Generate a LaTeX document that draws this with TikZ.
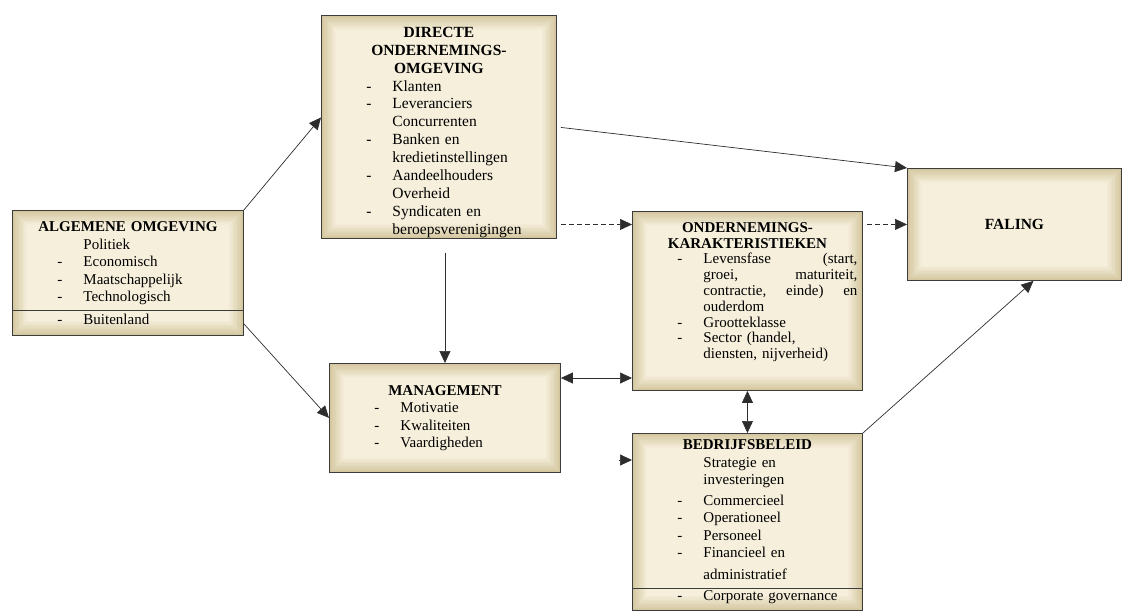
\documentclass[tikz,border=0pt]{standalone}
\usepackage{fontspec}
\setmainfont{Liberation Serif}
\usetikzlibrary{arrows.meta}
\definecolor{edgetan}{RGB}{212,199,160}
\definecolor{cream}{RGB}{246,239,220}
\definecolor{linegray}{RGB}{45,45,45}
\definecolor{boxline}{RGB}{60,60,60}
\newcommand{\itm}[1]{\hspace*{45pt}\makebox[26pt][l]{-}#1}
\newcommand{\cnt}[1]{\hspace*{71pt}#1}
\newcommand{\ttl}[1]{\makebox[\linewidth][c]{\bfseries #1}}

\begin{document}
\begin{tikzpicture}
		[x=1pt,y=-1pt,
		box/.style={rectangle,draw=boxline,line width=0.9pt,anchor=north west,inner sep=0pt,
align=left,font=\fontsize{15}{17.5}\selectfont,
path picture={\foreach \i [evaluate=\i as \p using int(100-\i*9)] in {0,...,11}
{\fill[edgetan!\p!cream] ([shift={(\i*1.3pt,\i*1.3pt)}]path picture bounding box.south west)
rectangle ([shift={(-\i*1.3pt,-\i*1.3pt)}]path picture bounding box.north east);}}},
		arr/.style={-{Triangle[length=12pt,width=11pt]},draw=linegray,line width=0.7pt,shorten <=4pt},
		dsh/.style={arr,dash pattern=on 5pt off 3pt},
		dbl/.style={{Triangle[length=12pt,width=11pt]}-{Triangle[length=12pt,width=11pt]},draw=linegray,line width=0.7pt}]
		\useasboundingbox (0,0) rectangle (1126,610);
		\node at (12,210) (alg) [box,minimum width=231pt,text width=231pt,minimum height=125pt]
{\ttl{ALGEMENE OMGEVING}\\ \cnt{Politiek}\\ \itm{Economisch}\\ \itm{Maatschappelijk}\\
\itm{Technologisch}\\[5pt] \itm{Buitenland}};
		\draw[boxline,line width=0.9pt] ([yshift=-100pt]alg.north west) -- ([yshift=-100pt]alg.north east);
		\node at (321,15) (dir) [box,minimum width=235pt,text width=235pt,minimum height=223pt,
font=\fontsize{15.5}{17.9}\selectfont]
{\ttl{\rule{0pt}{21pt}DIRECTE}\\ \ttl{ONDERNEMINGS-}\\ \ttl{OMGEVING}\\ \itm{Klanten}\\ \itm{Leveranciers}\\
\cnt{Concurrenten}\\ \itm{Banken en}\\ \cnt{kredietinstellingen}\\ \itm{Aandeelhouders}\\
\cnt{Overheid}\\ \itm{Syndicaten en}\\ \cnt{beroepsverenigingen}};
		\node at (632,211) (ond) [box,minimum width=230pt,text width=230pt,minimum height=179pt,
font=\fontsize{15}{15.8}\selectfont]
{\ttl{ONDERNEMINGS-}\\ \ttl{KARAKTERISTIEKEN}\\ \itm{\makebox[154pt][l]{Levensfase\hfill(start,}}\\
\cnt{\makebox[154pt][l]{groei,\hfill maturiteit,}}\\ \cnt{\makebox[154pt][l]{contractie,\hfill einde)\hfill en}}\\
\cnt{ouderdom}\\ \itm{Grootteklasse}\\ \itm{Sector (handel,}\\
\cnt{diensten, nijverheid)\rule[-21pt]{0pt}{21pt}}};
		\node at (329,363) (mgmt) [box,minimum width=231pt,text width=231pt,minimum height=109pt]
{\ttl{MANAGEMENT}\\ \itm{Motivatie}\\ \itm{Kwaliteiten}\\ \itm{Vaardigheden}};
		\node at (632,433) (bed) [box,minimum width=230pt,text width=230pt,minimum height=177pt]
{\ttl{BEDRIJFSBELEID}\\ \cnt{Strategie en}\\ \cnt{investeringen}\\[3pt] \itm{Commercieel}\\
\itm{Operationeel}\\ \itm{Personeel}\\ \itm{Financieel en}\\[4pt] \cnt{administratief}\\[4pt]
\itm{Corporate governance}};
		\draw[boxline,line width=0.9pt] ([yshift=-155pt]bed.north west) -- ([yshift=-155pt]bed.north east);
		\node at (907,168) (fal) [box,minimum width=214pt,minimum height=112pt,align=center,
font=\fontsize{15.5}{17.5}\selectfont\bfseries] {FALING};
		\coordinate (dirlow) at ([yshift=-14pt]dir.south);
		\coordinate (m1) at ([yshift=-15pt]mgmt.north east);
		\coordinate (bedin) at ([xshift=-13pt,yshift=-27pt]bed.north west);
		\draw[arr,shorten <=0pt] (alg.north east) -- ([yshift=9.5pt]dir.west);
		\draw[arr,shorten <=0pt] ([yshift=12pt]alg.south east) -- (mgmt.west);
		\draw[arr,shorten <=0pt] (dirlow -| mgmt.north) -- (mgmt.north);
		\draw[dsh] (dir.east |- fal.west) -- (ond.west |- fal.west);
		\draw[dsh] (ond.east |- fal.west) -- (fal.west);
		\draw[arr] (dir.east) -- (fal.north west);
		\draw[dbl] (m1) -- (m1 -| ond.west);
		\draw[dbl] (ond.south) -- (bed.north);
		\draw[arr,shorten <=0pt] (bedin) -- (bedin -| bed.west);
		\draw[arr,shorten <=0pt] (bed.north east) -- ([xshift=19pt]fal.south);
	\end{tikzpicture}
\end{document}
